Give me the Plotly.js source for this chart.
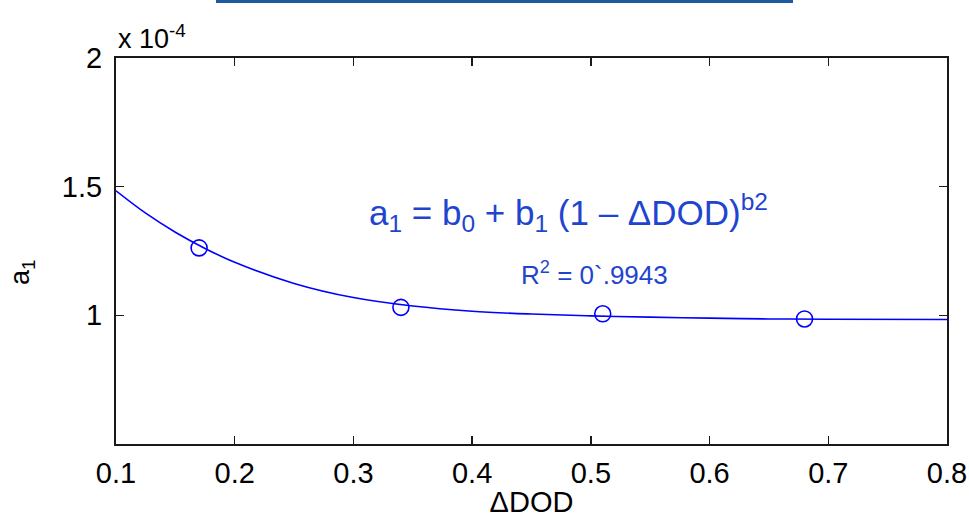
<!DOCTYPE html>
<html>
<head>
<meta charset="utf-8">
<script src="https://cdn.plot.ly/plotly-3.0.1.min.js"></script>
<style>
  html, body { margin: 0; padding: 0; background: #ffffff; }
  #chart { width: 969px; height: 518px; }
</style>
</head>
<body>
<div id="chart"></div>
<script>
// Measured points (a1 in units of 1e-4)
const dodPoints = [0.17, 0.34, 0.51, 0.68];
const a1Points = [1.262, 1.031, 1.006, 0.986];

// Fitted curve (a1 in units of 1e-4)
const dodCurve = [0.10, 0.125, 0.15, 0.175, 0.20, 0.25, 0.30, 0.35, 0.40, 0.45, 0.50, 0.55, 0.60, 0.65, 0.70, 0.80];
const a1Curve  = [1.484, 1.397, 1.323, 1.260, 1.206, 1.124, 1.069, 1.036, 1.016, 1.005, 0.998, 0.993, 0.989, 0.986, 0.985, 0.984];

const xTickVals = [0.1, 0.2, 0.3, 0.4, 0.5, 0.6, 0.7, 0.8];
const xTickText = ['0.1', '0.2', '0.3', '0.4', '0.5', '0.6', '0.7', '0.8'];
const yTickVals = [1, 1.5, 2];
const yTickText = ['1', '1.5', '2'];

const lineBlue = '#0000ff';
const textBlue = '#1f45cf';
const font = 'Liberation Sans, Arial, sans-serif';

const traces = [
  {
    x: dodCurve, y: a1Curve, type: 'scatter', mode: 'lines',
    line: { color: lineBlue, width: 1.6, shape: 'spline', smoothing: 1 },
    hoverinfo: 'skip', showlegend: false
  },
  {
    x: dodPoints, y: a1Points, type: 'scatter', mode: 'markers',
    marker: { symbol: 'circle-open', size: 16, color: lineBlue, line: { color: lineBlue, width: 1.6 } },
    showlegend: false
  }
];

const axisCommon = {
  showgrid: false, zeroline: false,
  showline: true, linecolor: '#1a1a1a', linewidth: 2, mirror: 'ticks',
  ticks: 'inside', ticklen: 8, tickwidth: 1.5, tickcolor: '#1a1a1a',
  tickfont: { family: font, size: 29, color: '#000000' }
};

const layout = {
  width: 969, height: 518,
  margin: { l: 116, r: 22, t: 58, b: 74 },
  paper_bgcolor: '#ffffff', plot_bgcolor: '#ffffff',
  font: { family: font, color: '#000000' },
  xaxis: Object.assign({}, axisCommon, {
    range: [0.1, 0.8], tickvals: xTickVals, ticktext: xTickText,
    ticklabelstandoff: 2,
    title: { text: '\u0394DOD', font: { family: font, size: 29, color: '#000000' }, standoff: 9 }
  }),
  yaxis: Object.assign({}, axisCommon, {
    range: [0.5, 2], tickvals: yTickVals, ticktext: yTickText,
    ticklabelstandoff: 6
  }),
  annotations: [
    {
      xref: 'paper', yref: 'paper', x: -0.113, y: 0.446, xanchor: 'center', yanchor: 'middle',
      text: 'a<sub>1</sub>', textangle: -90, showarrow: false,
      font: { family: font, size: 27, color: '#000000' }
    },
    {
      xref: 'paper', yref: 'paper', x: 0, y: 1, xanchor: 'left', yanchor: 'bottom',
      text: 'x 10<sup>-4</sup>', showarrow: false, yshift: 2,
      font: { family: font, size: 27, color: '#000000' }
    },
    {
      xref: 'paper', yref: 'paper', x: 0.545, y: 0.6, xanchor: 'center', yanchor: 'middle',
      text: 'a<sub>1</sub> = b<sub>0</sub> + b<sub>1</sub> (1 \u2013 \u0394DOD)<sup>b2</sup>',
      showarrow: false, font: { family: font, size: 35, color: textBlue }
    },
    {
      xref: 'paper', yref: 'paper', x: 0.576, y: 0.443, xanchor: 'center', yanchor: 'middle',
      text: 'R<sup>2</sup> = 0`.9943',
      showarrow: false, font: { family: font, size: 26, color: textBlue }
    }
  ],
  shapes: [
    {
      type: 'rect', xref: 'paper', yref: 'paper',
      x0: 0.1203, x1: 0.8147, y0: 1.1425, y1: 1.152,
      fillcolor: '#1f5aa0', line: { width: 0 }, layer: 'above'
    }
  ]
};

Plotly.newPlot('chart', traces, layout, { displayModeBar: false, staticPlot: true });
</script>
</body>
</html>
